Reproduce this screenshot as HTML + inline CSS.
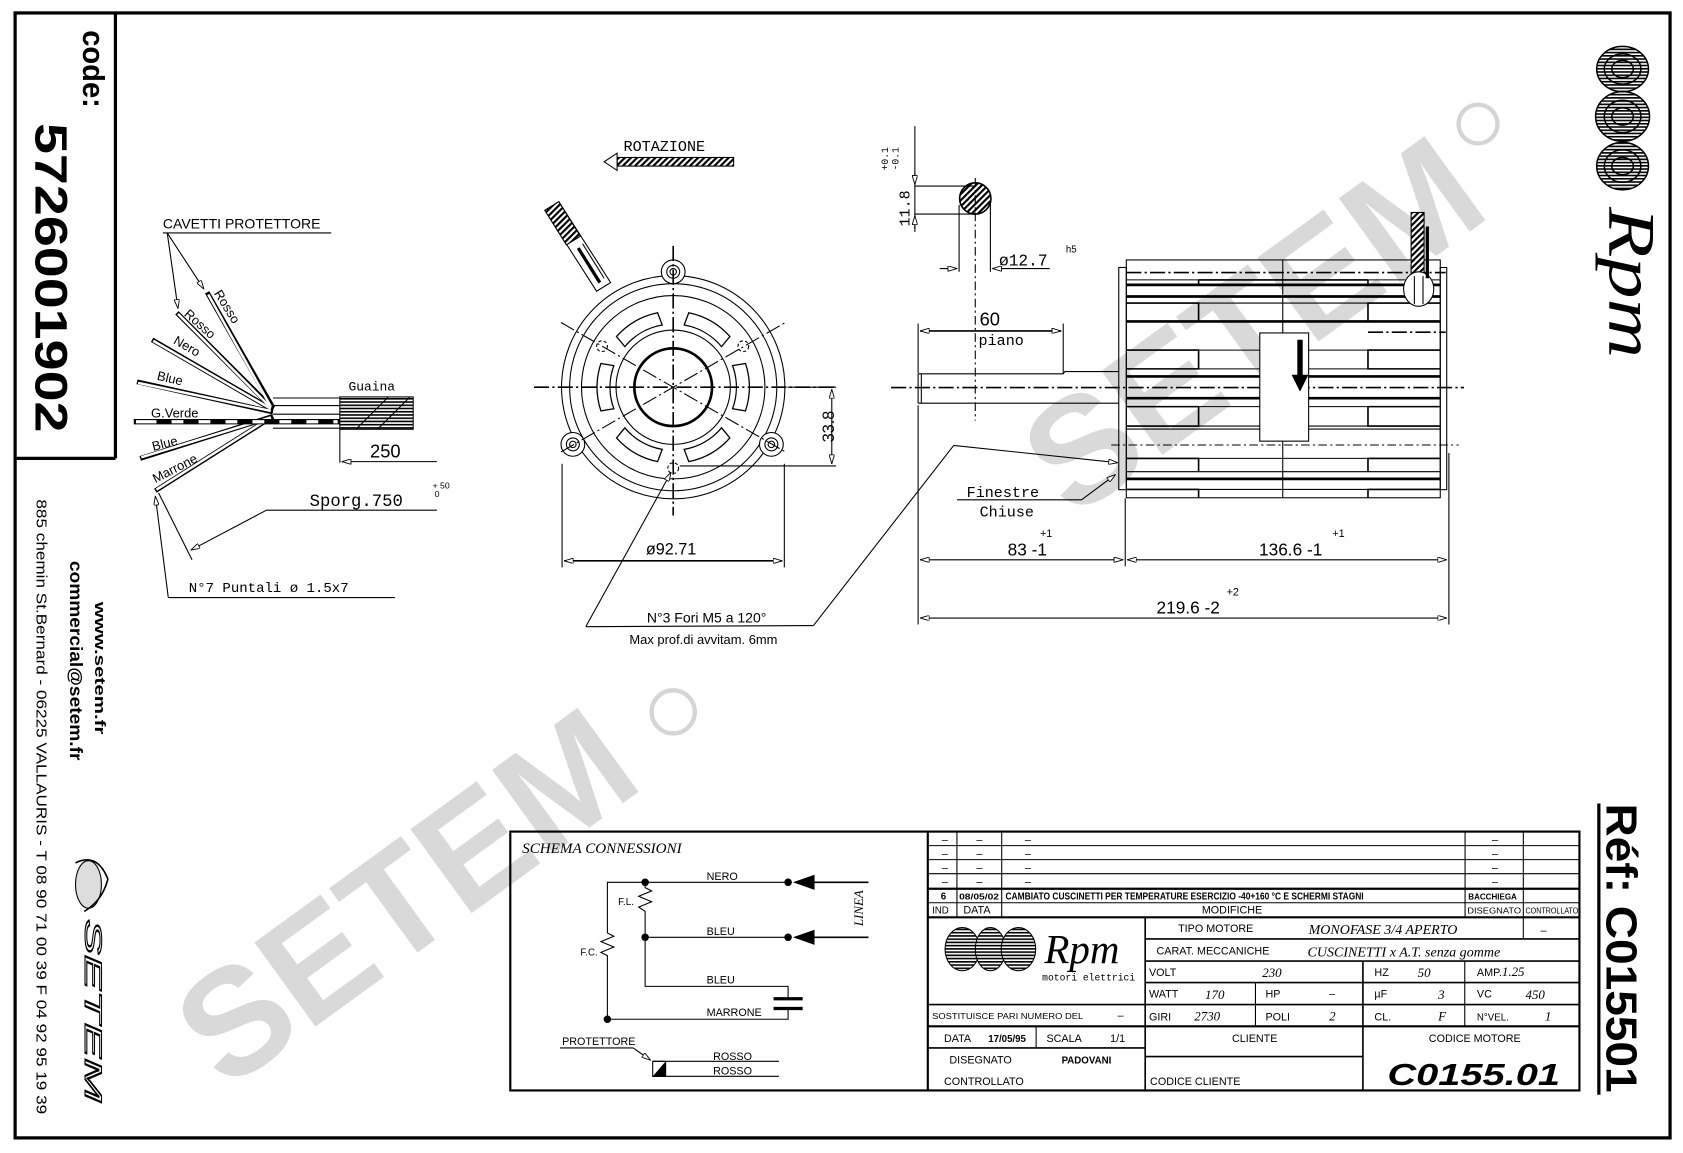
<!DOCTYPE html>
<html><head><meta charset="utf-8"><style>
html,body{margin:0;padding:0;background:#fff;}
svg{display:block;}
text{font-family:"Liberation Sans",sans-serif;fill:#000;}
.n{font-family:"Liberation Sans Narrow","Liberation Sans",sans-serif;}
.m{font-family:"Liberation Mono",monospace;}
.i{font-family:"Liberation Serif",serif;font-style:italic;}
</style></head><body>
<svg width="1683" height="1153" viewBox="0 0 1560 1069" preserveAspectRatio="none" xmlns="http://www.w3.org/2000/svg">
<defs>
<marker id="a" viewBox="0 0 10 6" refX="10" refY="3" markerWidth="9" markerHeight="5" orient="auto-start-reverse" markerUnits="userSpaceOnUse"><path d="M0,0 L10,3 L0,6 Z" fill="#fff" stroke="#000" stroke-width="1"/></marker>
<pattern id="h" width="4" height="4" patternUnits="userSpaceOnUse" patternTransform="rotate(45)"><rect width="4" height="4" fill="#fff"/><rect width="2" height="4" fill="#000"/></pattern>
<pattern id="hz" width="3" height="3" patternUnits="userSpaceOnUse"><rect width="3" height="3" fill="#fff"/><rect width="3" height="1.5" fill="#000"/></pattern>
</defs>
<rect width="1560" height="1069" fill="#fff"/>

<!-- watermarks -->
<g font-weight="bold" font-size="140">
<text transform="translate(375,830) rotate(-36)" text-anchor="middle" x="0" y="50" style="fill:#d9d9d9">SETEM</text>
<text transform="translate(1160,300) rotate(-36)" text-anchor="middle" x="0" y="50" style="fill:#d9d9d9">SETEM</text>
</g>
<circle cx="624" cy="660" r="20" fill="none" stroke="#d5d5d5" stroke-width="4"/>
<circle cx="1370" cy="115" r="18" fill="none" stroke="#d5d5d5" stroke-width="4"/>

<!-- frame -->
<rect x="14" y="12" width="1534" height="1043" fill="none" stroke="#000" stroke-width="3"/>
<line x1="107" y1="12" x2="107" y2="425" stroke="#000" stroke-width="3"/>
<line x1="14" y1="425" x2="107" y2="425" stroke="#000" stroke-width="3"/>
<text transform="translate(77,28) rotate(90)" font-size="28" font-weight="bold" textLength="72" lengthAdjust="spacingAndGlyphs">code:</text>
<text transform="translate(33,114) rotate(90)" font-size="42" font-weight="bold" textLength="287" lengthAdjust="spacingAndGlyphs">5726001902</text>
<text transform="translate(88,558) rotate(90)" font-size="14" font-weight="bold" textLength="123" lengthAdjust="spacingAndGlyphs">www.setem.fr</text>
<text transform="translate(65,520) rotate(90)" font-size="16" font-weight="bold" textLength="185" lengthAdjust="spacingAndGlyphs">commercial@setem.fr</text>
<text transform="translate(34,463) rotate(90)" font-size="14" textLength="570" lengthAdjust="spacingAndGlyphs">885 chemin St.Bernard  -  06225 VALLAURIS  -  T 08 90 71 00 39  F 04 92 95 19 39</text>
<ellipse cx="82" cy="820" rx="12" ry="22" fill="#ddd" stroke="#000" stroke-width="1"/>
<path d="M70,800 Q90,790 100,815 Q95,835 78,845" fill="none" stroke="#000" stroke-width="1.5"/>
<text transform="translate(79,852) rotate(90)" font-size="22" font-style="italic" style="fill:#fff;stroke:#000;stroke-width:1" textLength="170" lengthAdjust="spacingAndGlyphs">SETEM</text>

<!-- right Rpm logo -->
<g fill="url(#hz)"><ellipse cx="1504" cy="64" rx="24" ry="21"/><ellipse cx="1504" cy="108" rx="25" ry="23"/><ellipse cx="1504" cy="154" rx="24" ry="22"/></g>
<g fill="none" stroke="#000" stroke-width="1.4">
<ellipse cx="1504" cy="64" rx="24" ry="21"/><ellipse cx="1504" cy="64" rx="17" ry="14"/><ellipse cx="1504" cy="64" rx="10" ry="8"/>
<ellipse cx="1504" cy="108" rx="25" ry="23"/><ellipse cx="1504" cy="108" rx="17" ry="15"/><ellipse cx="1504" cy="108" rx="10" ry="8"/>
<ellipse cx="1504" cy="154" rx="24" ry="22"/><ellipse cx="1504" cy="154" rx="17" ry="15"/><ellipse cx="1504" cy="154" rx="10" ry="8"/>
</g>
<text transform="translate(1492,192) rotate(90)" class="i" font-size="62" textLength="140" lengthAdjust="spacingAndGlyphs">Rpm</text>
<line x1="1482" y1="745" x2="1482" y2="1015" stroke="#000" stroke-width="3"/>
<text transform="translate(1489,745) rotate(90)" font-size="40" font-weight="bold" textLength="268" lengthAdjust="spacingAndGlyphs">Réf: C015501</text>

<!-- cable drawing (left) -->
<g stroke="#000" fill="none" stroke-width="1">
<text x="151" y="212" class="n" font-size="13" stroke="none">CAVETTI PROTETTORE</text>
<line x1="151" y1="216" x2="307" y2="216"/>
<line x1="155" y1="216" x2="189" y2="268" marker-end="url(#a)"/>
<line x1="155" y1="216" x2="165" y2="286" marker-end="url(#a)"/>
<g stroke-width="4.5"><line x1="253" y1="378" x2="192" y2="271"/><line x1="253" y1="379" x2="164" y2="290"/><line x1="253" y1="380" x2="141" y2="315"/><line x1="253" y1="382" x2="127" y2="354"/><line x1="253" y1="386" x2="130" y2="425"/><line x1="253" y1="386" x2="144" y2="455"/></g>
<g stroke="#fff" stroke-width="2.3"><line x1="251" y1="377" x2="193" y2="273"/><line x1="251" y1="378" x2="165" y2="291"/><line x1="251" y1="379" x2="142" y2="316"/><line x1="251" y1="381" x2="128" y2="355"/><line x1="251" y1="387" x2="131" y2="424"/><line x1="251" y1="387" x2="145" y2="454"/></g>
<line x1="124" y1="391" x2="315" y2="391" stroke-width="5"/>
<line x1="126" y1="391" x2="313" y2="391" stroke="#fff" stroke-width="3"/>
<line x1="145" y1="391" x2="313" y2="391" stroke-width="4" stroke-dasharray="14,11"/>
<line x1="253" y1="369" x2="315" y2="369"/><line x1="253" y1="376" x2="315" y2="376"/><line x1="253" y1="384" x2="315" y2="384"/><line x1="253" y1="397" x2="315" y2="397"/>
<rect x="315" y="368" width="68" height="30" fill="url(#hz)"/>
<line x1="330" y1="398" x2="360" y2="368"/><line x1="350" y1="398" x2="380" y2="368"/>
<text x="323" y="362" class="m" font-size="12" stroke="none">Guaina</text>
<line x1="315" y1="398" x2="315" y2="429"/>
<line x1="405" y1="428" x2="317" y2="428" marker-end="url(#a)"/>
<text x="343" y="424" class="n" font-size="17" stroke="none">250</text>
<text x="287" y="469" class="m" font-size="16" stroke="none">Sporg.750</text>
<text x="401" y="453" font-size="8" stroke="none">+ 50</text><text x="403" y="461" font-size="8" stroke="none">0</text>
<line x1="247" y1="473" x2="405" y2="473"/>
<line x1="247" y1="473" x2="177" y2="510" marker-end="url(#a)"/>
<line x1="147" y1="457" x2="178" y2="519"/>
<text x="175" y="549" class="m" font-size="13" stroke="none">N°7 Puntali ø 1.5x7</text>
<line x1="156" y1="554" x2="366" y2="554"/>
<line x1="156" y1="554" x2="144" y2="460" marker-end="url(#a)"/>
</g>
<g class="m" font-size="12">
<text transform="translate(198,272) rotate(58)">Rosso</text>
<text transform="translate(170,292) rotate(42)">Rosso</text>
<text transform="translate(160,318) rotate(30)">Nero</text>
<text transform="translate(145,352) rotate(13)">Blue</text>
<text x="140" y="387">G.Verde</text>
<text transform="translate(142,418) rotate(-14)">Blue</text>
<text transform="translate(144,448) rotate(-27)">Marrone</text>
</g>

<!-- front view -->
<g stroke="#000" fill="none" stroke-width="1">
<text x="578" y="140" class="m" font-size="14" stroke="none">ROTAZIONE</text>
<rect x="572" y="146" width="108" height="8" fill="url(#h)"/>
<path d="M572,142 L560,150 L572,158 Z" fill="#fff"/>
<path d="M505,195 L518,187 L566,262 L553,270 Z" fill="#fff"/>
<path d="M505,195 L518,187 L538,219 L525,227 Z" fill="url(#h)"/>
<line x1="536" y1="230" x2="556" y2="262" stroke-width="3"/>
<line x1="540" y1="226" x2="560" y2="258"/>
<circle cx="624" cy="359" r="103.5"/>
<circle cx="624" cy="359" r="96"/>
<circle cx="624" cy="359" r="85"/>
<circle cx="624" cy="359" r="53"/>
<circle cx="624" cy="359" r="36" stroke-width="2.5"/>
<g id="slot"><path d="M691,337 A70,70 0 0 1 691,381 L679,379 A58,58 0 0 0 679,339 Z" stroke-width="1.2"/></g>
<use href="#slot" transform="rotate(60 624 359)"/><use href="#slot" transform="rotate(120 624 359)"/><use href="#slot" transform="rotate(180 624 359)"/><use href="#slot" transform="rotate(240 624 359)"/><use href="#slot" transform="rotate(300 624 359)"/>
<g fill="#fff"><circle cx="624" cy="252" r="11"/><circle cx="531" cy="412" r="11"/><circle cx="715" cy="412" r="11"/></g>
<circle cx="624" cy="252" r="6"/><circle cx="531" cy="412" r="6"/><circle cx="715" cy="412" r="6"/>
<circle cx="624" cy="252" r="3"/><circle cx="531" cy="412" r="3"/><circle cx="715" cy="412" r="3"/>
<g stroke-dasharray="3,2"><circle cx="558" cy="321" r="5"/><circle cx="689" cy="321" r="5"/><circle cx="624" cy="434" r="5"/></g>
<g stroke-dasharray="14,3,2,3"><line x1="495" y1="359" x2="775" y2="359" stroke-width="1.5"/><line x1="624" y1="228" x2="624" y2="478" stroke-width="1.5"/>
<line x1="520" y1="419" x2="728" y2="299"/><line x1="520" y1="299" x2="728" y2="419"/></g>
<line x1="521" y1="430" x2="521" y2="526"/><line x1="727" y1="430" x2="727" y2="526"/>
<line x1="523" y1="520" x2="725" y2="520" stroke-width="1.5" marker-start="url(#a)" marker-end="url(#a)"/>
<text x="622" y="514" text-anchor="middle" class="n" font-size="15" stroke="none">ø92.71</text>
<line x1="730" y1="359" x2="775" y2="359"/><line x1="630" y1="432" x2="775" y2="432"/>
<line x1="771" y1="361" x2="771" y2="430" marker-start="url(#a)" marker-end="url(#a)"/>
<text transform="translate(773,410) rotate(-90)" class="n" font-size="15" stroke="none">33.8</text>
<line x1="543" y1="581" x2="622" y2="438" marker-end="url(#a)"/>
<line x1="543" y1="581" x2="754" y2="580"/>
<line x1="754" y1="580" x2="884" y2="413"/>
<line x1="884" y1="413" x2="1036" y2="429" marker-end="url(#a)"/>
<text x="655" y="577" text-anchor="middle" class="n" font-size="13" stroke="none">N°3 Fori M5 a 120°</text>
<text x="652" y="597" text-anchor="middle" class="n" font-size="12" stroke="none">Max prof.di avvitam. 6mm</text>
</g>

<!-- shaft section -->
<g stroke="#000" fill="none" stroke-width="1">
<circle cx="904" cy="184" r="14.5" fill="url(#h)" stroke-width="1.5"/>
<line x1="848" y1="117" x2="848" y2="215"/>
<line x1="848" y1="172.5" x2="904" y2="172.5"/><line x1="848" y1="198.5" x2="904" y2="198.5"/>
<line x1="848" y1="160" x2="848" y2="171" marker-end="url(#a)"/><line x1="848" y1="212" x2="848" y2="200" marker-end="url(#a)"/>
<text transform="translate(843,210) rotate(-90)" class="m" font-size="14" stroke="none">11.8</text>
<text transform="translate(823,158) rotate(-90)" class="m" font-size="9" stroke="none">+0.1</text>
<text transform="translate(833,158) rotate(-90)" class="m" font-size="9" stroke="none">-0.1</text>
<line x1="889" y1="190" x2="889" y2="252"/><line x1="918" y1="186" x2="918" y2="252"/>
<line x1="871" y1="249" x2="887" y2="249" marker-end="url(#a)"/><line x1="973" y1="249" x2="920" y2="249" marker-end="url(#a)"/>
<text x="926" y="246" class="m" font-size="15" stroke="none">ø12.7</text>
<text x="988" y="234" font-size="9" stroke="none">h5</text>
<line x1="904" y1="165" x2="904" y2="390" stroke-dasharray="8,3,2,3"/>
</g>

<!-- side view -->
<g stroke="#000" fill="none" stroke-width="1">
<path d="M851,346.6 L985.5,346.6 L987,344.5 L1037,344.5"/>
<line x1="851" y1="373.8" x2="1037" y2="373.8"/>
<line x1="851" y1="346.6" x2="851" y2="373.8"/><line x1="854" y1="346.6" x2="854" y2="373.8"/>
<line x1="826" y1="359.3" x2="1357" y2="359.3" stroke-dasharray="14,3,2,3" stroke-width="1.5"/>
<line x1="851" y1="300" x2="851" y2="346"/><line x1="985.5" y1="300" x2="985.5" y2="346"/>
<line x1="853" y1="306.8" x2="983.5" y2="306.8" stroke-width="1.5" marker-start="url(#a)" marker-end="url(#a)"/>
<text x="908" y="302" class="n" font-size="17" stroke="none">60</text>
<text x="907" y="320" class="m" font-size="14" stroke="none">piano</text>
<rect x="1037" y="248" width="7" height="206"/>
<rect x="1335" y="248" width="6" height="206"/>
<rect x="1044" y="241" width="291" height="220.5"/>
<line x1="1189" y1="241" x2="1189" y2="461.5"/>
<g stroke-dasharray="14,3,2,3"><line x1="1044" y1="252.7" x2="1340" y2="252.7" stroke-width="1.5"/><line x1="1268" y1="308" x2="1340" y2="308" stroke-width="1.5"/></g>
<line x1="1030" y1="412.6" x2="1352" y2="412.6" stroke-dasharray="8,3,2,3"/>
<g><line x1="1044" y1="259.5" x2="1335" y2="259.5"/><line x1="1044" y1="281" x2="1335" y2="281"/><line x1="1044" y1="324.6" x2="1335" y2="324.6"/><line x1="1044" y1="342" x2="1335" y2="342"/><line x1="1044" y1="377" x2="1335" y2="377"/><line x1="1044" y1="395" x2="1335" y2="395"/><line x1="1044" y1="397.8" x2="1335" y2="397.8"/><line x1="1044" y1="425" x2="1335" y2="425"/><line x1="1044" y1="437.3" x2="1335" y2="437.3"/><line x1="1044" y1="453.8" x2="1335" y2="453.8"/></g>
<g stroke-width="2.5"><line x1="1044" y1="264.1" x2="1335" y2="264.1"/><line x1="1044" y1="274.9" x2="1335" y2="274.9"/><line x1="1044" y1="298" x2="1335" y2="298"/><line x1="1044" y1="349" x2="1335" y2="349"/><line x1="1044" y1="369.2" x2="1335" y2="369.2"/><line x1="1044" y1="444" x2="1335" y2="444"/></g>
<g stroke-width="1.5"><line x1="1111" y1="259.5" x2="1268" y2="259.5"/><line x1="1111" y1="259.5" x2="1111" y2="264"/><line x1="1268" y1="259.5" x2="1268" y2="264"/>
<path d="M1044,281 H1111 V298"/><path d="M1335,281 H1268 V298"/>
<path d="M1044,324.6 H1111 V342 H1044"/><path d="M1335,324.6 H1268 V342 H1335"/>
<path d="M1044,377 H1111 V395 H1044"/><path d="M1335,377 H1268 V395 H1335"/>
<path d="M1044,425 H1111 V437.3"/><path d="M1335,425 H1268 V437.3"/>
<path d="M1044,453.8 H1111 V461.5"/><path d="M1335,453.8 H1268 V461.5"/></g>
<rect x="1167.7" y="308.7" width="45.3" height="100.3" fill="#fff"/>
<line x1="1205" y1="315" x2="1205" y2="350" stroke-width="5"/>
<path d="M1198,348 L1212,348 L1205,362 Z" fill="#000"/>
<rect x="1308" y="197" width="12" height="70" fill="url(#h)"/>
<ellipse cx="1315" cy="268" rx="14" ry="16" fill="#fff"/>
<line x1="1311" y1="256" x2="1311" y2="282"/><line x1="1319" y1="256" x2="1319" y2="282"/>
<line x1="1323" y1="210" x2="1323" y2="258" stroke-width="3"/>
<text x="896" y="461" class="m" font-size="14" stroke="none">Finestre</text>
<text x="908" y="479" class="m" font-size="14" stroke="none">Chiuse</text>
<path d="M887,463.4 L1002.5,463.4 L1034,440" marker-end="url(#a)"/>
<line x1="851" y1="376" x2="851" y2="579"/><line x1="1043" y1="462" x2="1043" y2="525"/><line x1="1343" y1="420" x2="1343" y2="579"/>
<line x1="853" y1="519" x2="1041" y2="519" marker-start="url(#a)" marker-end="url(#a)"/>
<line x1="1045" y1="519" x2="1341" y2="519" marker-start="url(#a)" marker-end="url(#a)"/>
<line x1="853" y1="573" x2="1341" y2="573" marker-start="url(#a)" marker-end="url(#a)"/>
</g>
<g class="n" font-size="16">
<text x="934" y="515">83 -1</text><text x="964" y="498" font-size="10">+1</text>
<text x="1167" y="515">136.6 -1</text><text x="1235" y="498" font-size="10">+1</text>
<text x="1072" y="569">219.6 -2</text><text x="1137" y="552" font-size="10">+2</text>
</g>

<!-- title block -->
<g stroke="#000" fill="none" stroke-width="1">
<rect x="473" y="771" width="991" height="240" stroke-width="2"/>
<line x1="860" y1="771" x2="860" y2="1011" stroke-width="2"/>
<line x1="860" y1="784" x2="1464" y2="784"/><line x1="860" y1="797" x2="1464" y2="797"/><line x1="860" y1="810" x2="1464" y2="810"/>
<line x1="860" y1="824" x2="1464" y2="824" stroke-width="2"/><line x1="860" y1="837" x2="1464" y2="837"/>
<line x1="860" y1="850.5" x2="1464" y2="850.5" stroke-width="2"/>
<line x1="887" y1="771" x2="887" y2="850"/><line x1="928.5" y1="771" x2="928.5" y2="850"/><line x1="1358" y1="771" x2="1358" y2="850"/><line x1="1412" y1="771" x2="1412" y2="850"/>
<line x1="1061.5" y1="850" x2="1061.5" y2="1011" stroke-width="1.5"/>
<line x1="1061.5" y1="870.5" x2="1464" y2="870.5" stroke-width="1.5"/><line x1="1061.5" y1="891" x2="1464" y2="891" stroke-width="1.5"/>
<line x1="1061.5" y1="911" x2="1464" y2="911" stroke-width="1.5"/>
<line x1="860" y1="931.4" x2="1464" y2="931.4" stroke-width="1.5"/>
<line x1="860" y1="951.5" x2="1464" y2="951.5" stroke-width="2"/>
<line x1="860" y1="971.6" x2="1061.5" y2="971.6" stroke-width="1.5"/>
<line x1="1061.5" y1="979.6" x2="1263" y2="979.6" stroke-width="1.5"/>
<line x1="960.4" y1="951.5" x2="960.4" y2="971.6"/>
<line x1="1412" y1="850.5" x2="1412" y2="870.5"/>
<line x1="1263.3" y1="891" x2="1263.3" y2="1011" stroke-width="1.5"/>
<line x1="1357.7" y1="891" x2="1357.7" y2="951.5"/>
<line x1="1163.7" y1="911" x2="1163.7" y2="951.5"/>
</g>
<g class="n" font-size="10">
<text x="873" y="782">–</text><text x="905" y="782">–</text><text x="950" y="782">–</text><text x="1383" y="782">–</text>
<text x="873" y="795">–</text><text x="905" y="795">–</text><text x="950" y="795">–</text><text x="1383" y="795">–</text>
<text x="873" y="808">–</text><text x="905" y="808">–</text><text x="950" y="808">–</text><text x="1383" y="808">–</text>
<text x="873" y="821">–</text><text x="905" y="821">–</text><text x="950" y="821">–</text><text x="1383" y="821">–</text>
<text x="872" y="834" font-weight="bold" font-size="9">6</text>
<text x="889" y="834" font-weight="bold" font-size="8" textLength="37" lengthAdjust="spacingAndGlyphs">08/05/02</text>
<text x="932" y="834" font-weight="bold" font-size="9" textLength="332" lengthAdjust="spacingAndGlyphs">CAMBIATO CUSCINETTI PER TEMPERATURE ESERCIZIO -40+160 °C E SCHERMI STAGNI</text>
<text x="1361" y="834" font-weight="bold" font-size="8" textLength="45" lengthAdjust="spacingAndGlyphs">BACCHIEGA</text>
<text x="864" y="847" font-size="9">IND</text><text x="893" y="847" font-size="10">DATA</text>
<text x="1142" y="847" text-anchor="middle">MODIFICHE</text>
<text x="1360" y="847" font-size="8" textLength="50" lengthAdjust="spacingAndGlyphs">DISEGNATO</text>
<text x="1414" y="847" font-size="8" textLength="49" lengthAdjust="spacingAndGlyphs">CONTROLLATO</text>
<text x="1092" y="864">TIPO MOTORE</text>
<text x="1213" y="866" class="i" font-size="13">MONOFASE 3/4 APERTO</text>
<text x="1428" y="866">–</text>
<text x="1072" y="885">CARAT. MECCANICHE</text>
<text x="1212" y="887" class="i" font-size="13">CUSCINETTI x A.T. senza gomme</text>
<text x="1065" y="905">VOLT</text><text x="1170" y="906" class="i" font-size="12">230</text>
<text x="1274" y="905">HZ</text><text x="1314" y="906" class="i" font-size="12">50</text>
<text x="1369" y="905">AMP.<tspan class="i" font-size="12">1.25</tspan></text>
<text x="1065" y="925">WATT</text><text x="1117" y="926" class="i" font-size="12">170</text>
<text x="1173" y="925">HP</text><text x="1232" y="925">–</text>
<text x="1274" y="925">µF</text><text x="1333" y="926" class="i" font-size="12">3</text>
<text x="1369" y="925">VC</text><text x="1414" y="926" class="i" font-size="12">450</text>
<text x="1065" y="946">GIRI</text><text x="1107" y="946" class="i" font-size="12">2730</text>
<text x="1173" y="946">POLI</text><text x="1232" y="946" class="i" font-size="12">2</text>
<text x="1274" y="946">CL.</text><text x="1333" y="946" class="i" font-size="12">F</text>
<text x="1369" y="946" font-size="9">N°VEL.</text><text x="1432" y="946" class="i" font-size="12">1</text>
<text x="864" y="945" font-size="8" textLength="140" lengthAdjust="spacingAndGlyphs">SOSTITUISCE PARI NUMERO DEL</text><text x="1036" y="945">–</text>
<text x="875" y="966">DATA</text><text x="916" y="966" font-weight="bold" font-size="9">17/05/95</text>
<text x="970" y="966">SCALA</text><text x="1029" y="966">1/1</text>
<text x="880" y="986">DISEGNATO</text><text x="984" y="986" font-weight="bold" font-size="9">PADOVANI</text>
<text x="875" y="1006">CONTROLLATO</text>
<text x="1163" y="966" text-anchor="middle">CLIENTE</text>
<text x="1066" y="1006">CODICE CLIENTE</text>
<text x="1367" y="966" text-anchor="middle">CODICE MOTORE</text>
</g>
<text x="1366" y="1006" text-anchor="middle" font-size="28" font-weight="bold" font-style="italic" textLength="160" lengthAdjust="spacingAndGlyphs">C0155.01</text>
<g fill="url(#hz)" stroke="#000" stroke-width="1"><ellipse cx="892" cy="880" rx="16" ry="20"/><ellipse cx="918" cy="880" rx="14" ry="20"/><ellipse cx="944" cy="880" rx="16" ry="20"/></g>
<text x="968" y="893" class="i" font-size="38">Rpm</text>
<text x="966" y="909" class="m" font-size="9">motori elettrici</text>

<!-- schema connessioni -->
<text x="484" y="791" class="i" font-size="14">SCHEMA CONNESSIONI</text>
<g stroke="#000" fill="none" stroke-width="1">
<path d="M563,945 V886 L557,883 L569,878 L557,873 L569,868 L563,865 V818 H730"/>
<path d="M598,818 V823 L604,826 L592,831 L604,836 L592,841 L598,845 V869 H730"/>
<path d="M598,869 V914.5 H730.5 V925"/>
<path d="M563,945 H730.5 V936"/>
<line x1="717" y1="926" x2="744" y2="926" stroke-width="3"/><line x1="717" y1="935" x2="744" y2="935" stroke-width="3"/>
<line x1="750" y1="818" x2="805" y2="818" stroke-width="1.5"/><line x1="750" y1="869" x2="805" y2="869" stroke-width="1.5"/>
<line x1="519" y1="971.6" x2="587" y2="971.6"/><line x1="587" y1="971.6" x2="603" y2="983" marker-end="url(#a)"/>
<line x1="605" y1="984" x2="722" y2="984"/><line x1="605" y1="997.9" x2="722" y2="997.9"/>
<rect x="605" y="984" width="12" height="14"/>
</g>
<path d="M605,998 L617,984 L617,998 Z" fill="#000"/>
<g fill="#000"><circle cx="598" cy="818" r="3.5"/><circle cx="598" cy="869" r="3.5"/><circle cx="563" cy="945" r="3.5"/><circle cx="730.5" cy="818" r="3.5"/><circle cx="730.5" cy="869" r="3.5"/>
<path d="M735,818 L755,811 L755,825 Z"/><path d="M735,869 L755,862 L755,876 Z"/></g>
<g class="n" font-size="10">
<text x="655" y="816">NERO</text><text x="655" y="867">BLEU</text><text x="655" y="912">BLEU</text><text x="655" y="942">MARRONE</text>
<text x="573" y="839" font-size="9">F.L.</text><text x="538" y="886" font-size="9">F.C.</text>
<text x="521" y="969">PROTETTORE</text><text x="661" y="983">ROSSO</text><text x="661" y="996">ROSSO</text>
</g>
<text transform="translate(800,822) rotate(-90)" class="i" font-size="12" text-anchor="middle" x="-20">LINEA</text>
</svg>
</body></html>
